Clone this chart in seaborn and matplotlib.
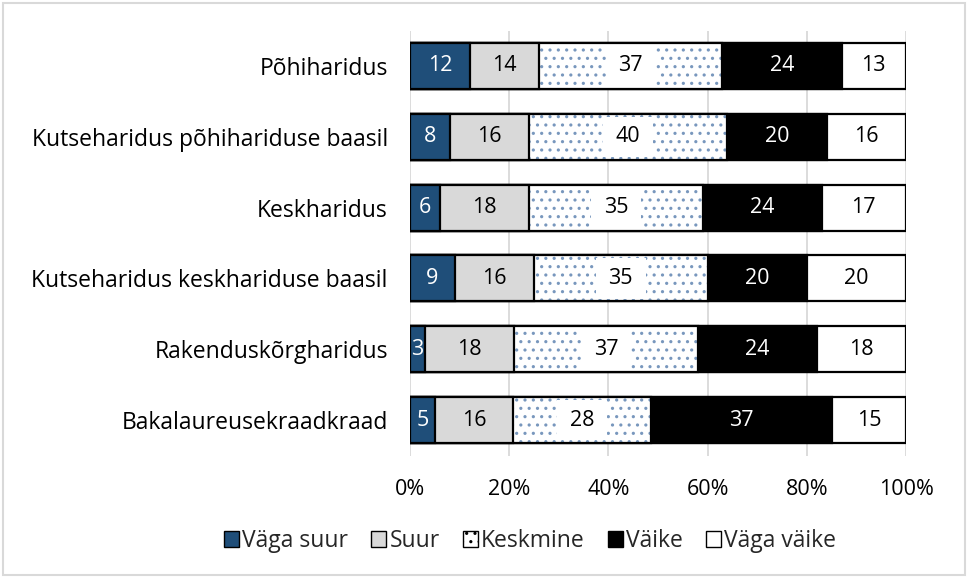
import numpy as np
import pandas as pd
import matplotlib
matplotlib.use("Agg")
import matplotlib.pyplot as plt
import seaborn as sns
from matplotlib.patches import Patch, Rectangle

categories = ["Põhiharidus", "Kutseharidus põhihariduse baasil", "Keskharidus",
              "Kutseharidus keskhariduse baasil", "Rakenduskõrgharidus", "Bakalaureusekraadkraad"]
series = ["Väga suur", "Suur", "Keskmine", "Väike", "Väga väike"]
vaga_suur = [12, 8, 6, 9, 3, 5]
suur = [14, 16, 18, 16, 18, 16]
keskmine = [37, 40, 35, 35, 37, 28]
vaike = [24, 20, 24, 20, 24, 37]
vaga_vaike = [13, 16, 17, 20, 18, 15]
xticks = [0, 20, 40, 60, 80, 100]
xtick_labels = ["0%", "20%", "40%", "60%", "80%", "100%"]

sns.set_theme(style="white")
plt.rcParams["font.family"] = ["Open Sans", "DejaVu Sans"]
plt.rcParams["hatch.linewidth"] = 1.1

FS_Y = 16.5
FS = 15.5
BAR_W = 0.65
colors = ["#1F4E79", "#D9D9D9", "white", "black", "white"]
text_colors = ["white", "black", "black", "white", "black"]
hatches = [None, None, "..", None, None]
DOT = "#7897BD"

data = np.array([vaga_suur, suur, keskmine, vaike, vaga_vaike], dtype=float)
totals = data.sum(axis=0)
pct = data / totals * 100
cum = np.cumsum(pct, axis=0)

fig = plt.figure(figsize=(9.68, 5.77), dpi=100)
ax = fig.add_axes([410/968, 1-455.5/577, 496/968, 425/577])

df = pd.DataFrame({"cat": categories})
# draw cumulative bars from the widest down so that earlier segments overlay
for i in range(len(series) - 1, -1, -1):
    df["val"] = cum[i]
    n_before = len(ax.patches)
    sns.barplot(data=df, x="val", y="cat", orient="h", ax=ax, color=colors[i],
                width=BAR_W, edgecolor="black", linewidth=1.6, saturation=1,
                hatch=hatches[i])
    new = ax.patches[n_before:]
    if hatches[i]:
        for p in new:
            p.set_edgecolor(DOT)
            p.set_linewidth(0)
        for j, p in enumerate(new):
            ax.add_patch(Rectangle(p.get_xy(), p.get_width(), p.get_height(),
                                   fill=False, edgecolor="black", linewidth=1.6, zorder=p.get_zorder()))
            # white background behind the label
            mid = cum[i][j] - pct[i][j] / 2
            ax.add_patch(Rectangle((mid - 5, j - BAR_W / 2 + 0.04), 10, BAR_W - 0.08,
                                   facecolor="white", edgecolor="none", zorder=p.get_zorder() + 0.1))

# labels
for i in range(len(series)):
    for j in range(len(categories)):
        mid = cum[i][j] - pct[i][j] / 2
        ax.text(mid, j, f"{int(data[i][j])}", ha="center", va="center",
                fontsize=FS, color=text_colors[i], zorder=10)

ax.set_xlim(0, 100)
ax.set_ylim(len(categories) - 0.5, -0.5)
ax.set_xticks(xticks)
ax.set_xticklabels(xtick_labels)
ax.tick_params(axis="x", length=0, pad=17, labelsize=FS, colors="black")
ax.tick_params(axis="y", length=0, pad=16, labelsize=FS_Y, colors="black")
ax.set_xlabel("")
ax.set_ylabel("")
ax.grid(axis="x", color="#D9D9D9", linewidth=1.3)
ax.set_axisbelow(True)
for s in ax.spines.values():
    s.set_visible(False)

handles = [Patch(facecolor=colors[i], edgecolor="black", hatch=hatches[i], linewidth=1)
           for i in range(len(series))]
leg = fig.legend(handles, series, loc="center", bbox_to_anchor=(530/968, 1-541/577),
                 ncol=5, frameon=False, fontsize=FS_Y, handlelength=0.65, handleheight=0.65,
                 handletextpad=0.15, columnspacing=1.0)

fig.add_artist(Rectangle((0.003, 0.003), 0.994, 0.992, transform=fig.transFigure,
                         fill=False, edgecolor="#D9D9D9", linewidth=1.5))
fig.savefig("out.png", dpi=100)
